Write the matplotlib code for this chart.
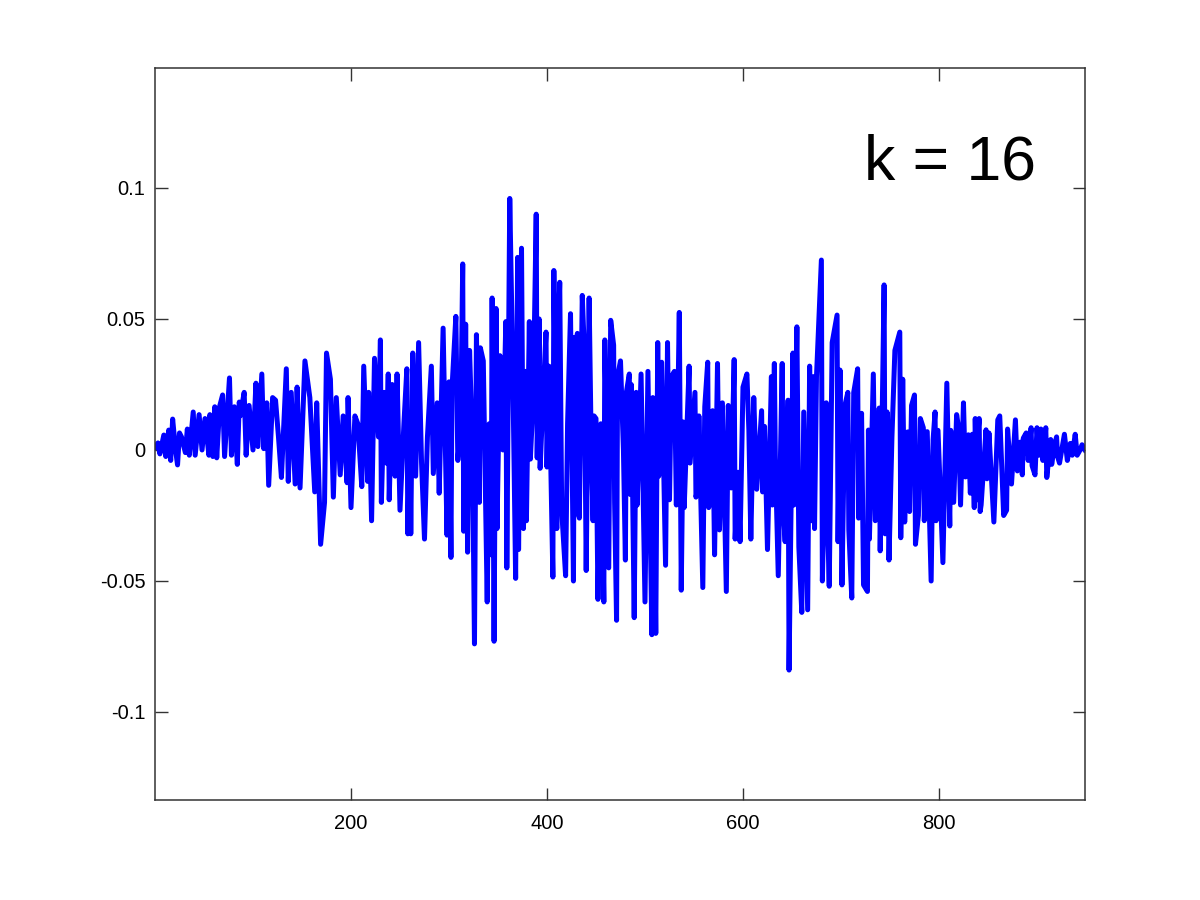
import matplotlib
matplotlib.use("Agg")
import matplotlib.pyplot as plt
from matplotlib.ticker import FixedLocator, FixedFormatter

# Digitized signal (sample index, amplitude)
sample_x = [
    0, 3, 5, 9, 11, 14, 16, 18, 21, 23, 25, 27, 31, 33, 35, 39, 41, 45, 48, 51,
    55, 56, 59, 61, 63, 66, 69, 71, 76, 78, 81, 84, 86, 87, 91, 93, 96, 100, 103, 105,
    109, 111, 114, 116, 120, 123, 126, 129, 134, 136, 139, 143, 145, 148, 153,
    158, 163, 165, 169, 173, 175, 179, 182, 185, 189, 192, 196, 197, 200, 204, 207,
    211, 213, 217, 218, 221, 224, 228, 230, 231, 234, 236, 238, 239, 242, 245, 247,
    250, 254, 257, 258, 260, 261, 263, 266, 269, 272, 275, 278,
    282, 284, 288, 290, 294, 298, 300, 302, 303, 307, 309, 312, 314, 315, 317, 319,
    321, 324, 326, 328, 331, 332, 335, 339, 341, 343, 344, 346, 348, 349, 352, 355,
    358, 359, 362, 365, 368, 370, 371, 374, 376, 378, 379, 382, 383, 386, 389, 390,
    392, 393, 396, 399, 400, 402, 406, 407, 410, 411, 413,
    415, 419, 421, 424, 427, 428, 429, 431, 433, 436, 438, 440, 443, 445, 447, 448,
    450, 452, 455, 458, 459, 463, 465, 468, 469, 471, 472, 475, 478, 480, 481, 484,
    485, 486, 489, 491, 492, 496, 500, 503, 507, 508, 511, 513, 514, 517, 521, 523,
    525, 527, 530, 532, 535, 537, 539, 540, 545, 546, 551, 552, 554, 555, 559, 561,
    564, 565, 569, 571, 574, 576, 579, 583, 585, 588, 591, 592, 595, 597, 600, 604,
    606, 608, 611, 614, 619, 620, 622, 625, 629, 630, 632, 633, 636, 640, 641, 643,
    646, 647, 651, 652, 655, 657, 660, 662, 666, 668, 670, 672, 673, 675, 680, 681,
    685, 686, 688, 691, 696, 697, 699, 701,
    704, 707, 708, 711, 713, 717, 718, 721, 723, 727, 728, 729, 733, 735, 739, 740,
    744, 745, 747, 749, 752, 755, 760, 761, 763, 765, 768, 770, 772, 775, 776, 779,
    781, 784, 785, 788, 792, 794, 796, 797, 799, 804, 808, 811, 812, 815, 818, 820,
    822, 825, 827, 830, 832, 834, 836, 837, 839, 840,
    841, 842, 843, 848, 849, 851, 856, 860, 862, 866, 869, 870, 874, 878, 880, 883,
    885, 886, 889, 891, 894, 895, 898, 900, 902, 904, 906, 909, 910, 914, 915, 918,
    920, 921, 923, 928, 931, 934, 936, 939, 941, 944, 946, 949,
]

amplitude = [
    0.001, 0.0027, -0.0015, 0.0057, -0.0025, 0.0076, -0.004, 0.0118, 0.0, -0.0057,
    0.0065, 0.005, -0.001, 0.008, -0.002, 0.0145, -0.002, 0.0135, 0.0, 0.012,
    -0.002, 0.0135, -0.0025, 0.0165, -0.003, 0.0167, 0.021, -0.0025, 0.0275, -0.002,
    0.0165, -0.0055, 0.0183, 0.013, 0.022, -0.002, 0.017, 0.0, 0.0255, 0.0013,
    0.029, 0.0005, 0.018, -0.0135, 0.020, 0.019, 0.005, -0.0105, 0.031, -0.012,
    0.022, -0.013, 0.024, -0.0145, 0.034,
    0.020, -0.016, 0.018, -0.036, -0.020, 0.037, 0.027, -0.018, 0.020, -0.0095,
    0.013, -0.0125, 0.020, -0.022, 0.013, 0.010,
    -0.014, 0.032, -0.012, 0.022, -0.027, 0.035, 0.005, 0.042, -0.020, 0.022,
    -0.005, 0.029, -0.019, 0.025, -0.010, 0.029,
    -0.023, 0.010, 0.031, -0.032, 0.010, -0.032, 0.037, -0.010, 0.041, -0.005,
    -0.034, 0.005,
    0.032, -0.009, 0.018, -0.0165, 0.0465, -0.0325, 0.026, -0.041, 0.023, 0.051,
    -0.004, 0.010, 0.071, -0.031, 0.048, -0.039,
    0.038, 0.0, -0.074, 0.044, -0.020, 0.039, 0.034, -0.058, 0.010, -0.040,
    0.058, -0.073, 0.054, -0.030, 0.036, 0.0,
    0.049, -0.045, 0.096, 0.033, -0.049, 0.0735, -0.038, 0.077, -0.030, 0.030,
    -0.027, 0.049, -0.0035, 0.02, 0.090, -0.003,
    0.050, -0.007, 0.02, 0.045, -0.0065, 0.032, -0.0485, 0.0685, -0.030, 0.037,
    0.064,
    -0.023, -0.048, 0.010, 0.052, -0.050, 0.043, -0.0245, 0.0445, -0.026, 0.059,
    0.039, -0.046, 0.058, 0.005, -0.027, 0.013,
    0.012, -0.057, 0.010, -0.058, 0.042, -0.045, 0.0495, 0.040, -0.020, -0.065,
    0.028, 0.034, 0.0, -0.042, 0.022, 0.029,
    -0.017, 0.025, -0.064, 0.022, -0.021, 0.029, -0.058, 0.030, -0.0705, 0.020,
    -0.070, 0.041, -0.010, 0.0335, -0.044, 0.041,
    -0.019, 0.028, 0.030, -0.021, 0.0525, -0.0535, 0.0107, -0.022, 0.032, -0.005,
    0.022, -0.018, -0.0145, 0.013, -0.0525, 0.0165,
    0.0335, -0.022, 0.015, -0.040, 0.033, -0.0305, 0.018, -0.054, 0.017, -0.0145,
    0.0345, -0.034, -0.0085, -0.035, 0.024, 0.029,
    0.0076, -0.034, 0.020, -0.015, 0.015, -0.016, 0.009, -0.038, 0.028, -0.021,
    0.033, -0.003, -0.048, 0.033, -0.0215, -0.035,
    0.019, -0.084, 0.037, -0.021, 0.047, -0.037, -0.062, 0.0145, -0.061, 0.032,
    -0.027, 0.028, -0.030, 0.028, 0.0725, -0.050,
    0.018, -0.023, -0.052, 0.041, 0.0515, -0.035, 0.0305, -0.0515,
    0.017, 0.022, -0.0305, -0.0565, 0.022, 0.031, -0.026, 0.014, -0.0515, -0.054,
    0.0076, -0.034, 0.029, -0.027, 0.016, -0.0385,
    0.063, -0.032, 0.0145, -0.042, 0.005, 0.038, 0.045, -0.0335, 0.027, -0.0275,
    0.0069, -0.0235, 0.017, 0.021, -0.036, -0.025,
    0.012, 0.0085, -0.027, 0.007, -0.050, 0.004, 0.0145, -0.027, 0.0075, -0.043,
    0.0255, -0.029, 0.0075, -0.020, 0.0135, 0.0085,
    -0.021, 0.018, -0.0103, 0.0058, -0.0165, 0.006, -0.022, 0.012, -0.019, 0.0076,
    0.012, -0.0235, -0.021, 0.0077, -0.011, 0.0065, -0.0275, 0.0115, 0.013, -0.025,
    -0.023, 0.008, -0.013, 0.0115, -0.008, 0.003,
    -0.0095, 0.0045, 0.0065, -0.004, 0.0085, -0.006, -0.0095, 0.0085, -0.002, 0.008,
    -0.004, 0.0085, -0.0105, 0.004, -0.0055, 0.002,
    0.005, -0.0025, -0.005, 0.006, -0.004, 0.0025, -0.002, 0.006, -0.002, 0.0,
    0.002, 0.0,
]

x_ticks = [200, 400, 600, 800]
y_ticks = [-0.1, -0.05, 0, 0.05, 0.1]
y_tick_labels = ["-0.1", "-0.05", "0", "0.05", "0.1"]
annotation = "k = 16"

plt.rcParams['font.family'] = ['Liberation Sans', 'DejaVu Sans']

fig = plt.figure(figsize=(12, 9), dpi=100)
ax = fig.add_axes([155/1200, 1 - 800/900, 930/1200, 732/900])

n = min(len(sample_x), len(amplitude))
ax.plot(sample_x[:n], amplitude[:n], color='#0000ff', linewidth=3.6,
        solid_joinstyle='round')

ax.set_xlim(0, 949)
ax.set_ylim(-0.1336, 0.1458)

ax.xaxis.set_major_locator(FixedLocator(x_ticks))
ax.yaxis.set_major_locator(FixedLocator(y_ticks))
ax.yaxis.set_major_formatter(FixedFormatter(y_tick_labels))

ax.tick_params(direction='in', length=9, width=1.0, top=True, right=True,
               labelsize=14.5, colors='#333333', labelcolor='black')
ax.tick_params(axis='x', pad=10)
ax.tick_params(axis='y', pad=7)
for s in ax.spines.values():
    s.set_linewidth(1.1)
    s.set_color('#333333')

ax.text(0.855, 0.847, annotation, transform=ax.transAxes, fontsize=45,
        ha='center', va='baseline', color='black')

fig.savefig("out.png", dpi=100, facecolor='white')
